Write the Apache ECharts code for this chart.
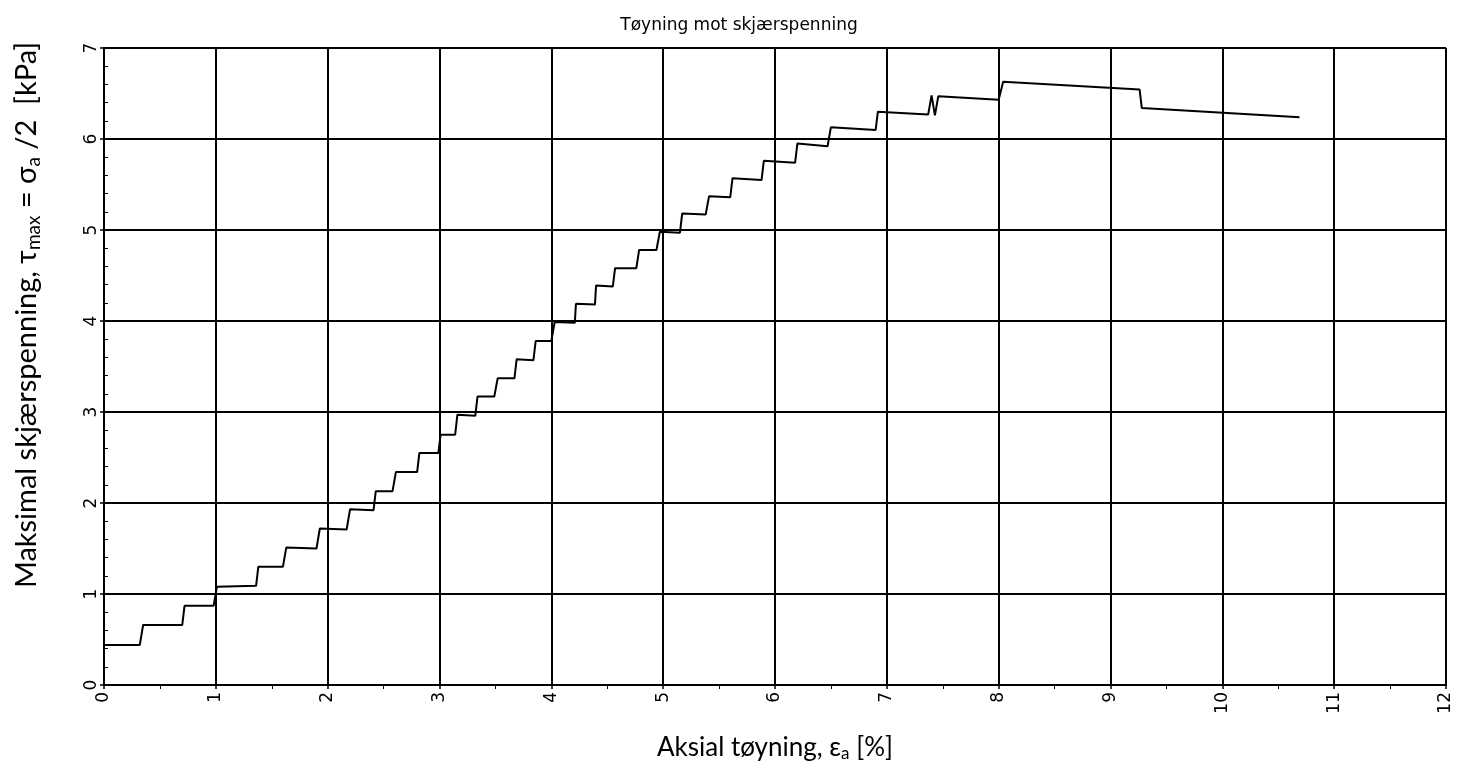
<!DOCTYPE html>
<html>
<head>
<meta charset="utf-8">
<script src="https://cdn.jsdelivr.net/npm/echarts@6/dist/echarts.min.js"></script>
<style>
  html, body { margin: 0; padding: 0; background: #fff; }
  #chart { width: 1458px; height: 771px; }
</style>
</head>
<body>
<div id="chart"></div>
<script>
// Axial strain [%] and maximum shear stress [kPa] from the triaxial test
const strain = [0, 0.32, 0.35, 0.70, 0.72, 0.98, 1.01, 1.36, 1.38, 1.60,
  1.63, 1.90, 1.93, 2.17, 2.20, 2.41, 2.43, 2.58, 2.61, 2.80,
  2.82, 2.99, 3.01, 3.14, 3.16, 3.32, 3.34, 3.49, 3.52, 3.67,
  3.69, 3.84, 3.86, 4.00, 4.03, 4.21, 4.22, 4.39, 4.40, 4.55,
  4.57, 4.76, 4.785, 4.94, 4.97, 5.15, 5.17, 5.38, 5.41, 5.60,
  5.62, 5.88, 5.90, 6.18, 6.20, 6.47, 6.50, 6.90, 6.92, 7.37,
  7.40, 7.43, 7.46, 8.00, 8.04, 9.26, 9.28, 10.69];
const shearStress = [0.44, 0.44, 0.66, 0.66, 0.87, 0.87, 1.08, 1.09, 1.30, 1.30,
  1.51, 1.50, 1.72, 1.71, 1.93, 1.92, 2.13, 2.13, 2.34, 2.34,
  2.55, 2.55, 2.75, 2.75, 2.97, 2.96, 3.17, 3.17, 3.37, 3.37,
  3.58, 3.57, 3.78, 3.78, 3.99, 3.98, 4.19, 4.18, 4.39, 4.38,
  4.58, 4.58, 4.78, 4.78, 4.98, 4.97, 5.18, 5.17, 5.37, 5.36,
  5.57, 5.55, 5.76, 5.74, 5.95, 5.92, 6.13, 6.10, 6.30, 6.27,
  6.48, 6.26, 6.47, 6.43, 6.63, 6.545, 6.34, 6.24];

const titleText = 'Tøyning mot skjærspenning';
const xTitle = 'Aksial tøyning, ε{sub|a} [%]';
const yTitle = 'Maksimal skjærspenning, τ{sub|max} = σ{sub|a} /2  [kPa]';

const xRange = { min: 0, max: 12, interval: 1 };
const yRange = { min: 0, max: 7, interval: 1 };

const points = strain.map((x, i) => [x, shearStress[i]]);

const tickFont = { fontFamily: '"DejaVu Sans", sans-serif', fontSize: 17, color: '#000' };
const nameFont = 'Lato, "Open Sans", sans-serif';

const chart = echarts.init(document.getElementById('chart'), null, { renderer: 'canvas' });

chart.setOption({
  backgroundColor: '#fff',
  animation: false,
  title: {
    text: titleText,
    left: 734,
    textAlign: 'center',
    top: 12,
    textStyle: { fontFamily: '"DejaVu Sans", sans-serif', fontSize: 17, fontWeight: 'normal', color: '#000' }
  },
  grid: { left: 104, right: 12, top: 48, bottom: 86, containLabel: false },
  xAxis: [
    {
      type: 'value', ...xRange,
      name: xTitle, nameLocation: 'middle', nameGap: 48,
      nameTextStyle: {
        fontFamily: nameFont, fontSize: 26, color: '#000',
        rich: { sub: { fontFamily: nameFont, fontSize: 17, color: '#000', verticalAlign: 'bottom', padding: [12, 0, 0, 0] } }
      },
      axisLine: { show: true, onZero: false, lineStyle: { color: '#000', width: 2 } },
      axisTick: { show: true, inside: false, length: 4, lineStyle: { color: '#000', width: 1.5 } },
      axisLabel: { ...tickFont, rotate: 90, margin: 7 },
      splitLine: { show: true, lineStyle: { color: '#000', width: 2 } }
    },
    {
      type: 'value', ...xRange, position: 'bottom',
      axisLine: { show: false },
      axisTick: { show: false },
      minorTick: { show: true, splitNumber: 2, length: 4, lineStyle: { color: '#000', width: 1 } },
      axisLabel: { show: false },
      splitLine: { show: false }
    }
  ],
  yAxis: [
    {
      type: 'value', ...yRange,
      axisLine: { show: true, onZero: false, lineStyle: { color: '#000', width: 2 } },
      axisTick: { show: true, inside: false, length: 4, lineStyle: { color: '#000', width: 1.5 } },
      axisLabel: { ...tickFont, rotate: 90, margin: 4 },
      splitLine: { show: true, lineStyle: { color: '#000', width: 2 } }
    },
    {
      type: 'value', ...yRange, position: 'left',
      axisLine: { show: false },
      axisTick: { show: false, inside: true },
      minorTick: { show: true, splitNumber: 5, length: 4, lineStyle: { color: '#000', width: 1 } },
      axisLabel: { show: false },
      splitLine: { show: false }
    }
  ],
  graphic: [
    {
      type: 'text',
      x: 27, y: 315,
      rotation: Math.PI / 2,
      style: {
        text: yTitle,
        fontFamily: nameFont, fontSize: 29, fill: '#000',
        align: 'center', verticalAlign: 'middle',
        rich: {
          sub: { fontFamily: nameFont, fontSize: 19, fill: '#000', verticalAlign: 'bottom', padding: [13, 0, 0, 0] }
        }
      }
    }
  ],
  series: [
    {
      type: 'line',
      xAxisIndex: 0, yAxisIndex: 0,
      data: points,
      showSymbol: false,
      symbol: 'none',
      lineStyle: { color: '#000', width: 2 },
      z: 5
    }
  ]
});
</script>
</body>
</html>
